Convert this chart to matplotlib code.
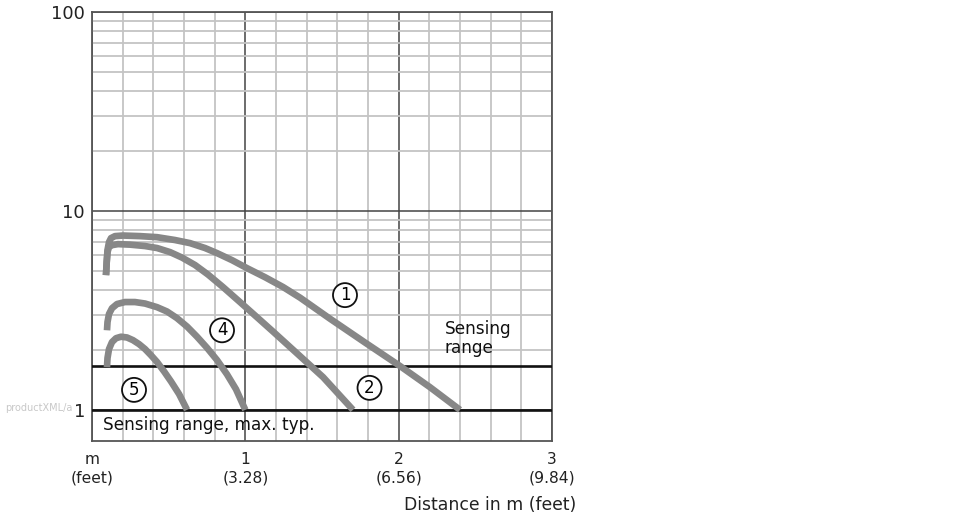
import matplotlib
matplotlib.use("Agg")
import matplotlib.pyplot as plt
from matplotlib.ticker import FixedLocator, NullFormatter

# curve data (distance in m, value on log axis)
c1_x = [0.0913, 0.0959, 0.1011, 0.1109, 0.124, 0.150, 0.202, 0.313, 0.424, 0.541, 0.639,
        0.737, 0.815, 0.913, 1.011, 1.128, 1.246, 1.357, 1.552, 1.780, 2.009, 2.204, 2.40]
c1_y = [4.75, 5.52, 6.35, 6.96, 7.29, 7.46, 7.51, 7.46, 7.37, 7.13, 6.88,
        6.50, 6.13, 5.65, 5.15, 4.64, 4.14, 3.66, 2.87, 2.18, 1.66, 1.30, 1.0]

c2_x = [0.0913, 0.0959, 0.1011, 0.1109, 0.1304, 0.1696, 0.248, 0.346, 0.424, 0.509, 0.587,
        0.672, 0.757, 0.854, 0.965, 1.076, 1.184, 1.291, 1.507, 1.702]
c2_y = [4.75, 5.52, 6.20, 6.57, 6.72, 6.80, 6.76, 6.65, 6.50, 6.20, 5.82,
        5.34, 4.78, 4.14, 3.48, 2.92, 2.46, 2.07, 1.46, 1.0]

c4_x = [0.0978, 0.1011, 0.1109, 0.1304, 0.163, 0.215, 0.280, 0.346, 0.424, 0.489, 0.554,
        0.620, 0.685, 0.750, 0.815, 0.880, 0.939, 1.0]
c4_y = [2.51, 2.76, 3.03, 3.24, 3.40, 3.48, 3.48, 3.42, 3.28, 3.12, 2.89,
        2.62, 2.33, 2.05, 1.78, 1.51, 1.27, 1.0]

c5_x = [0.0978, 0.1011, 0.1109, 0.1304, 0.1565, 0.189, 0.228, 0.267, 0.3065, 0.346, 0.385,
        0.424, 0.470, 0.515, 0.568, 0.620]
c5_y = [1.64, 1.82, 2.02, 2.19, 2.29, 2.33, 2.31, 2.24, 2.14, 2.02, 1.88,
        1.74, 1.56, 1.39, 1.20, 1.0]

curve_labels = ["1", "2", "4", "5"]
label_x = [1.65, 1.81, 0.848, 0.274]
label_y = [3.77, 1.29, 2.51, 1.26]

sensing_range = 1.66
sensing_max = 1.0

xticks = [0, 1, 2, 3]
xticklabels = ["m\n(feet)", "1\n(3.28)", "2\n(6.56)", "3\n(9.84)"]
yticks = [1, 10, 100]
yticklabels = ["1", "10", "100"]
yminor = [2, 3, 4, 5, 6, 7, 8, 9, 20, 30, 40, 50, 60, 70, 80, 90]
xminor = [0.2, 0.4, 0.6, 0.8, 1.2, 1.4, 1.6, 1.8, 2.2, 2.4, 2.6, 2.8]

plt.rcParams['font.family'] = ['DejaVu Sans']

fig = plt.figure(figsize=(9.7, 5.2), dpi=100)
ax = fig.add_axes([92/970, 1-440.7/520, 460/970, (440.7-11.7)/520])

ax.set_yscale('log')
ax.set_xlim(0, 3)
ax.set_ylim(0.7, 100)

ax.xaxis.set_major_locator(FixedLocator(xticks))
ax.set_xticklabels(xticklabels)
ax.xaxis.set_minor_locator(FixedLocator(xminor))
ax.yaxis.set_major_locator(FixedLocator(yticks))
ax.set_yticklabels(yticklabels)
ax.yaxis.set_minor_locator(FixedLocator(yminor))
ax.yaxis.set_minor_formatter(NullFormatter())

ax.tick_params(which='both', length=0)
ax.tick_params(axis='x', pad=8, labelsize=11.2, colors='#222222')
ax.tick_params(axis='y', pad=5, labelsize=13, colors='#222222')
for lab in ax.get_xticklabels():
    lab.set_linespacing(1.3)

ax.grid(which='minor', color='#c4c4c4', linewidth=1.3)
ax.grid(which='major', color='#444444', linewidth=1.1)
ax.set_axisbelow(True)
for s in ax.spines.values():
    s.set_color('#555555')
    s.set_linewidth(1.3)

ax.axhline(sensing_range, color='#111111', linewidth=1.9, zorder=3)
ax.axhline(sensing_max, color='#111111', linewidth=1.9, zorder=3)

for cx, cy in [(c1_x, c1_y), (c2_x, c2_y), (c4_x, c4_y), (c5_x, c5_y)]:
    ax.plot(cx, cy, color='#878787', linewidth=4.8, solid_capstyle='butt',
            solid_joinstyle='round', zorder=4)

for t, lx, ly in zip(curve_labels, label_x, label_y):
    ax.text(lx, ly, t, ha='center', va='center', fontsize=12, zorder=5,
            bbox=dict(boxstyle='circle,pad=0.18', fc='white', ec='#111111', lw=1.3))

ax.text(2.3, 2.29, "Sensing\nrange", ha='left', va='center', fontsize=12.2,
        linespacing=1.1, color='#111111', zorder=5)
ax.text(0.07, 0.835, "Sensing range, max. typ.", ha='left', va='center',
        fontsize=12.2, color='#111111', zorder=5)

fig.text(576/970, 1-505/520, "Distance in m (feet)", ha='right', va='center',
         fontsize=12.4, color='#222222')
fig.text(5/970, 1-408/520, "productXML/a", ha='left', va='center',
         fontsize=7, color='#c8c8c8')

fig.savefig("out.png", dpi=100)
